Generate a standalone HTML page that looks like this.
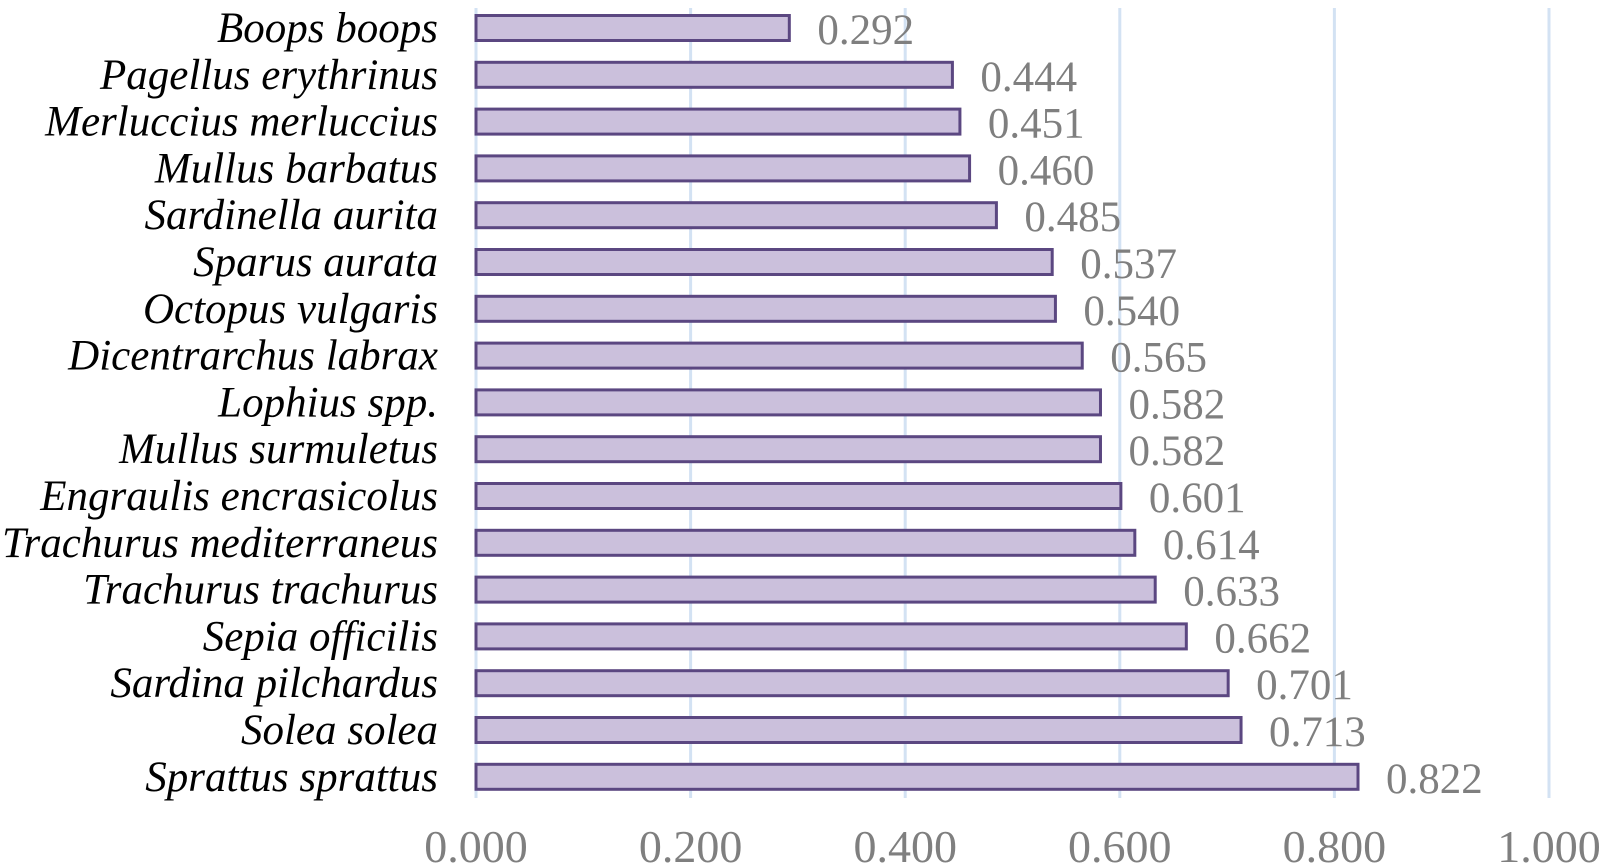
<!DOCTYPE html>
<html><head><meta charset="utf-8">
<style>html,body{margin:0;padding:0;background:#fff;}svg{display:block;}</style>
</head><body>
<svg id="chart" width="1600" height="868" viewBox="0 0 1600 868" xmlns="http://www.w3.org/2000/svg"></svg>
<script>
const categories = ["Boops boops","Pagellus erythrinus","Merluccius merluccius","Mullus barbatus","Sardinella aurita","Sparus aurata","Octopus vulgaris","Dicentrarchus labrax","Lophius spp.","Mullus surmuletus","Engraulis encrasicolus","Trachurus mediterraneus","Trachurus trachurus","Sepia officilis","Sardina pilchardus","Solea solea","Sprattus sprattus"];
const values = [0.292,0.444,0.451,0.460,0.485,0.537,0.540,0.565,0.582,0.582,0.601,0.614,0.633,0.662,0.701,0.713,0.822];
const ticks = [0,0.2,0.4,0.6,0.8,1.0];
const tickLabels = ["0.000","0.200","0.400","0.600","0.800","1.000"];

const NS = "http://www.w3.org/2000/svg";
const svg = document.getElementById("chart");
const x0 = 476, x1 = 1549, yTop = 28, yStep = 46.8, barH = 25;
const xScale = v => x0 + v * (x1 - x0);
const yScale = i => yTop + i * yStep;
function mk(tag, attrs){ const e=document.createElementNS(NS,tag); for(const k in attrs) e.setAttribute(k,attrs[k]); svg.appendChild(e); return e; }

ticks.forEach((t,i)=>{
  const g = mk("line",{x1:xScale(t),x2:xScale(t),y1:8,y2:798,stroke:"#d3e2f3","stroke-width":3});
  
  
  const tl = mk("text",{x:xScale(t),y:862,"text-anchor":"middle","font-family":"Liberation Serif, serif","font-size":46,fill:"#7f7f7f"});
  tl.textContent = tickLabels[i];
  
  
});

categories.forEach((c,i)=>{
  const cy = yScale(i);
  const r = mk("rect",{x:x0,y:cy-barH/2,width:xScale(values[i])-x0,height:barH,fill:"#cbc0dc",stroke:"#5b4781","stroke-width":3});
  
  
  const lbl = mk("text",{x:438,y:cy+14,"text-anchor":"end","font-family":"Liberation Serif, serif","font-style":"italic","font-size":43,fill:"#000"});
  lbl.textContent = c;
  
  
  const vl = mk("text",{x:xScale(values[i])+28,y:cy+16,"font-family":"Liberation Serif, serif","font-size":43,fill:"#7f7f7f"});
  vl.textContent = values[i].toFixed(3);
  
  
});
</script>
</body></html>
